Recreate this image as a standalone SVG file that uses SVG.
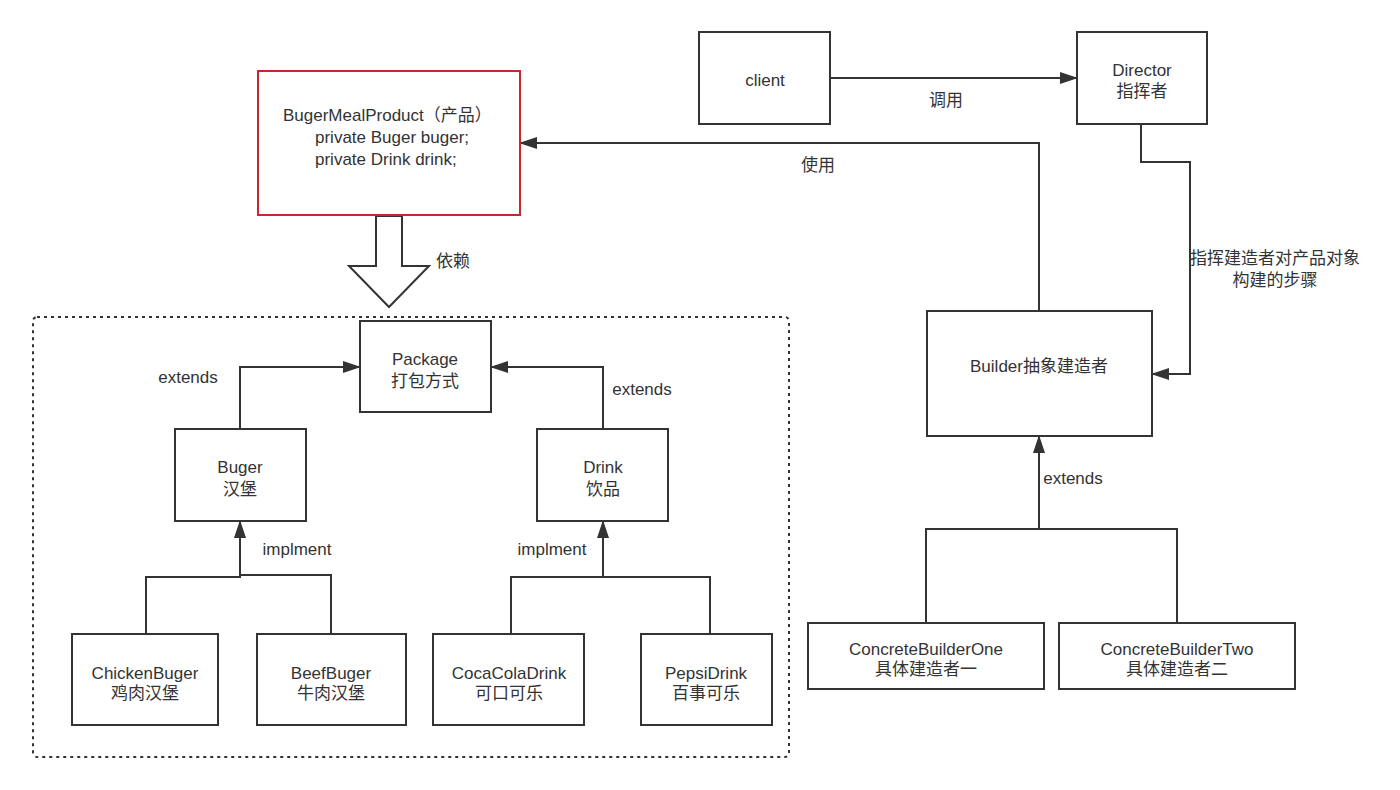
<svg xmlns="http://www.w3.org/2000/svg" width="1400" height="790" viewBox="0 0 1400 790">
<style>
text{font-family:"Liberation Sans","Noto Sans CJK SC",sans-serif;font-size:17px;fill:#333;}
.c{text-anchor:middle;}
.box{fill:#fff;stroke:#333;stroke-width:2;}
.red{fill:#fff;stroke:#c6282d;stroke-width:2;}
.conn{fill:none;stroke:#333;stroke-width:2;}
</style>
<defs>
<marker id="ah" markerUnits="userSpaceOnUse" markerWidth="18" markerHeight="12" refX="17" refY="6" orient="auto">
<path d="M0,0 L18,6 L0,12 z" fill="#333"/>
</marker>
</defs>
<rect width="1400" height="790" fill="#fff"/>
<rect id="container" x="33" y="317" width="756" height="440" rx="4" fill="none" stroke="#333" stroke-width="2" stroke-dasharray="3 4"/>
<g id="connectors">
<path class="conn" d="M830,78 H1077" marker-end="url(#ah)"/>
<path class="conn" d="M1141,124 V162 H1190 V374 H1152" marker-end="url(#ah)"/>
<path class="conn" d="M1039,311 V143 H520" marker-end="url(#ah)"/>
<path class="conn" d="M240,429 V367 H360" marker-end="url(#ah)"/>
<path class="conn" d="M603,429 V367 H491" marker-end="url(#ah)"/>
<path class="conn" d="M146,634 V577 H240 V521" marker-end="url(#ah)"/>
<path class="conn" d="M331,634 V575 H240"/>
<path class="conn" d="M511,634 V577 H603 V521" marker-end="url(#ah)"/>
<path class="conn" d="M710,634 V577 H603"/>
<path class="conn" d="M926,623 V529 H1177 V623"/>
<path class="conn" d="M1039,529 V436" marker-end="url(#ah)"/>
<polygon points="376,216 402,216 402,266 429,266 389,307 349,266 376,266" fill="#fff" stroke="#333" stroke-width="2"/>
<text class="c" x="946" y="106">调用</text>
<text class="c" x="818" y="171">使用</text>
<text x="436" y="267">依赖</text>
<text class="c" x="1275" y="264">指挥建造者对产品对象</text>
<text class="c" x="1275" y="286">构建的步骤</text>
<text class="c" x="188" y="383">extends</text>
<text class="c" x="642" y="395">extends</text>
<text class="c" x="297" y="555">implment</text>
<text class="c" x="552" y="555">implment</text>
<text class="c" x="1073" y="484">extends</text>
</g>
<g id="product">
<rect class="red" x="258" y="71" width="262" height="144"/>
<text x="283" y="121">BugerMealProduct（产品）</text>
<text x="315" y="143">private Buger buger;</text>
<text x="315" y="165">private Drink drink;</text>
</g>
<g id="client">
<rect class="box" x="699" y="32" width="131" height="92"/>
<text class="c" x="765" y="86">client</text>
</g>
<g id="director">
<rect class="box" x="1077" y="32" width="130" height="92"/>
<text class="c" x="1142" y="76">Director</text>
<text class="c" x="1142" y="97">指挥者</text>
</g>
<g id="builder">
<rect class="box" x="927" y="311" width="225" height="125"/>
<text class="c" x="1039" y="372">Builder抽象建造者</text>
</g>
<g id="cb1">
<rect class="box" x="808" y="623" width="236" height="66"/>
<text class="c" x="926" y="655">ConcreteBuilderOne</text>
<text class="c" x="926" y="675">具体建造者一</text>
</g>
<g id="cb2">
<rect class="box" x="1059" y="623" width="236" height="66"/>
<text class="c" x="1177" y="655">ConcreteBuilderTwo</text>
<text class="c" x="1177" y="675">具体建造者二</text>
</g>
<g id="package">
<rect class="box" x="360" y="321" width="131" height="91"/>
<text class="c" x="425" y="365">Package</text>
<text class="c" x="425" y="387">打包方式</text>
</g>
<g id="buger">
<rect class="box" x="175" y="429" width="131" height="92"/>
<text class="c" x="240" y="473">Buger</text>
<text class="c" x="240" y="495">汉堡</text>
</g>
<g id="drink">
<rect class="box" x="537" y="429" width="131" height="92"/>
<text class="c" x="603" y="473">Drink</text>
<text class="c" x="603" y="495">饮品</text>
</g>
<g id="chicken">
<rect class="box" x="72" y="634" width="146" height="91"/>
<text class="c" x="145" y="679">ChickenBuger</text>
<text class="c" x="145" y="699">鸡肉汉堡</text>
</g>
<g id="beef">
<rect class="box" x="257" y="634" width="149" height="91"/>
<text class="c" x="331" y="679">BeefBuger</text>
<text class="c" x="331" y="699">牛肉汉堡</text>
</g>
<g id="coca">
<rect class="box" x="433" y="634" width="151" height="91"/>
<text class="c" x="509" y="679">CocaColaDrink</text>
<text class="c" x="509" y="699">可口可乐</text>
</g>
<g id="pepsi">
<rect class="box" x="641" y="634" width="131" height="91"/>
<text class="c" x="706" y="679">PepsiDrink</text>
<text class="c" x="706" y="699">百事可乐</text>
</g>
</svg>
